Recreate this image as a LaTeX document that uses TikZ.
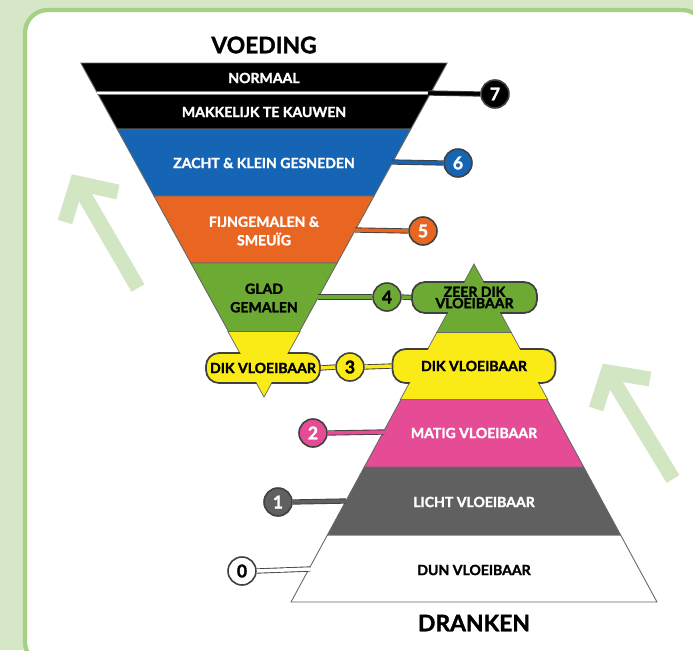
\documentclass[tikz,border=0pt]{standalone}
\usepackage{fontspec}
\setmainfont{Lato}[BoldFeatures={FakeBold=1.6}]
\usetikzlibrary{positioning}
\definecolor{panelgreen} {RGB}{214,231,200}
\definecolor{rimgreen}   {RGB}{166,208,132}
\definecolor{arrowgreen} {RGB}{211,230,196}
\definecolor{bandblue}   {RGB}{22,101,180}
\definecolor{bandorange} {RGB}{233,101,34}
\definecolor{bandgreen}  {RGB}{108,170,52}
\definecolor{bandyellow} {RGB}{250,234,22}
\definecolor{bandpink}   {RGB}{230,76,150}
\definecolor{bandgray}   {RGB}{96,96,96}
\tikzset{
  band/.style   ={draw=black!60, line width=0.5pt},
  lbl/.style    ={font=\fontsize{8}{9.5}\selectfont\bfseries,
                  align=center, inner sep=0pt},
  wlbl/.style   ={lbl, text=white},
  heading/.style={font=\fontsize{13}{15}\selectfont\bfseries, inner sep=0pt},
  level/.style  ={circle, draw=black!75, line width=0.9pt, fill=#1,
                  minimum size=0.56cm, inner sep=0pt,
                  font=\fontsize{10}{10}\selectfont\bfseries},
  plate/.style  ={rounded corners=0.26cm, draw=black!75, line width=1pt,
                  inner sep=0pt},
  link/.style   ={draw=black!75, line width=0.5pt, double=#1,
                  double distance=2pt},
  uparrow/.style={arrowgreen, line width=8.5pt, line join=miter},
}

\begin{document}
\begin{tikzpicture}[x=0.02cm, y=-0.02cm]
  \useasboundingbox (0,0) rectangle (693,650);
  \clip (0,0) rectangle (693,650);
  %% panel
  \fill[panelgreen] (0,0) rectangle (693,650);
  \draw[rimgreen, line width=2.4pt, fill=white, rounded corners=13pt]
    (25,10) rectangle (705,665);

  %% green arrows
  \draw[uparrow] (138,288) -- (77,183);
  \draw[uparrow] (65,222) -- (77,183) -- (118,192);
  \draw[uparrow] (673,479) -- (608,372);
  \draw[uparrow] (596,409) -- (608,372) -- (650,379);

  %% funnel (voeding)
  \node[heading] (voeding) at (264,45) {VOEDING};
  \draw[band, fill=black] (80.85,63) -- (447.15,63) -- (410.85,129) -- (117.15,129) -- cycle;
  \draw[draw=black!50, line width=0.4pt, double=white, double distance=1.4pt]
    (97.35,93) -- (430.65,93);
  \draw[band, fill=bandblue] (117.15,129) -- (410.85,129) -- (374,196) -- (154,196) -- cycle;
  \draw[band, fill=bandorange] (154,196) -- (374,196) -- (337.15,263) -- (190.85,263) -- cycle;
  \draw[band, fill=bandgreen] (190.85,263) -- (337.15,263) -- (299.2,332) -- (228.8,332) -- cycle;
  \draw[band, fill=bandyellow, line width=1pt] (228.8,332) -- (299.2,332) -- (264,396) -- cycle;
  \node[plate, fill=bandyellow, minimum width=2.28cm, minimum height=0.6cm] (dikL) at (263,368) {};
  \fill[bandyellow] (228.8,332) -- (299.2,332) -- (264,396) -- cycle;

  \node[wlbl] (normaal) at (264,78) {NORMAAL};
  \node[wlbl] (kauwen) at (264,112) {MAKKELIJK TE KAUWEN};
  \node[wlbl] (zacht) at (264,163) {ZACHT \& KLEIN GESNEDEN};
  \node[wlbl] (fijn) at (264,231) {FIJNGEMALEN \&\\[1pt]SMEUÏG};
  \node[lbl] (glad) at (264,298) {GLAD\\[1pt]GEMALEN};
  \node[lbl] (dikLtxt) at (dikL) {DIK VLOEIBAAR};

  %% pyramid (dranken)
  \draw[band] (291,602) -- (657,602) -- (620.6,535) -- (327.4,535) -- cycle;
  \draw[band, fill=bandgray] (327.4,535) -- (620.6,535) -- (583.7,467) -- (364.3,467) -- cycle;
  \draw[band, fill=bandpink] (364.3,467) -- (583.7,467) -- (546.8,399) -- (401.2,399) -- cycle;
  \draw[band, fill=bandyellow, line width=1pt] (401.2,399) -- (546.8,399) -- (510.4,332) -- (437.6,332) -- cycle;
  \node[plate, fill=bandyellow, minimum width=3.26cm, minimum height=0.68cm] (dikR) at (474,366) {};
  \fill[bandyellow] (401.2,399) -- (546.8,399) -- (510.4,332) -- (437.6,332) -- cycle;
  \draw[band, fill=bandgreen, line width=1pt] (437.6,332) -- (510.4,332) -- (474,265) -- cycle;
  \node[plate, fill=bandgreen, minimum width=2.5cm, minimum height=0.62cm] (zeer) at (474.5,297.5) {};
  \fill[bandgreen] (437.6,332) -- (510.4,332) -- (474,265) -- cycle;
  \draw[black!60, line width=0.5pt] (437.6,332) -- (510.4,332);

  \node[lbl] (zeertxt) at (zeer) {ZEER DIK\\[-3pt]VLOEIBAAR};
  \node[lbl] (dikRtxt) at (dikR) {DIK VLOEIBAAR};
  \node[wlbl] (matig) at (474,433) {MATIG VLOEIBAAR};
  \node[wlbl] (licht) at (474,502) {LICHT VLOEIBAAR};
  \node[lbl] (dun) at (474,570) {DUN VLOEIBAAR};
  \node[heading] (dranken) at (474,623) {DRANKEN};

  %% levels
  \node[level=black, text=white] (n7) at (495,94) {7};
  \node[level=bandblue, text=white] (n6) at (458,163) {6};
  \node[level=bandorange, text=white] (n5) at (423,231) {5};
  \node[level=bandgreen] (n4) at (387,297) {4};
  \node[level=bandyellow] (n3) at (350,367) {3};
  \node[level=bandpink, text=white] (n2) at (313,433) {2};
  \node[level=bandgray, text=white] (n1) at (278,502) {1};
  \node[level=white] (n0) at (242,571) {0};

  \coordinate (e7) at (428,93);
  \coordinate (e6) at (392,162);
  \coordinate (e5) at (355,230);
  \coordinate (e4) at (318,297);
  \coordinate (e2) at (384,432);
  \coordinate (e1) at (346,501);
  \coordinate (e0) at (310,569);

  \draw[link=black] (e7) -- (n7.west);
  \draw[link=bandblue] (e6) -- (n6.west);
  \draw[link=bandorange] (e5) -- (n5.west);
  \draw[link=bandgreen] (e4) -- (n4.west);
  \draw[link=bandgreen] (n4.east) -- (zeer.west);
  \draw[link=bandyellow] (dikL.east) -- (n3.west);
  \draw[link=bandyellow] (n3.east) -- (dikR.west);
  \draw[link=bandpink] (n2.east) -- (e2);
  \draw[link=bandgray] (n1.east) -- (e1);
  \draw[link=white] (n0.east) -- (e0);
\end{tikzpicture}
\end{document}
